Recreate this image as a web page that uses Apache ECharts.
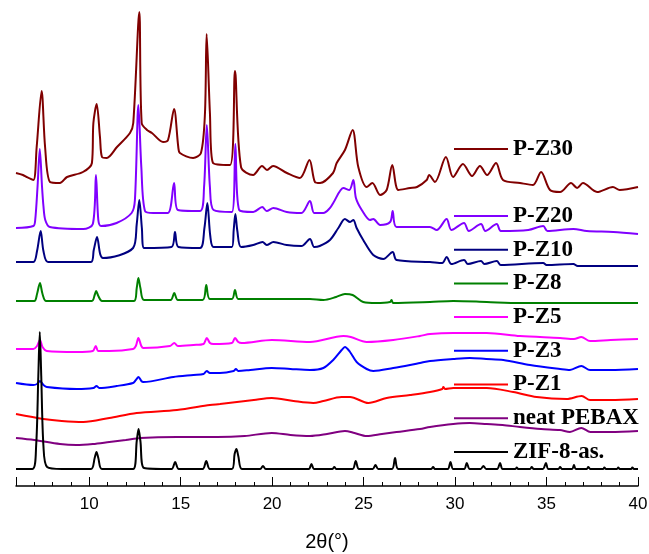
<!DOCTYPE html>
<html>
<head>
<meta charset="utf-8">
<title>XRD patterns</title>
<script src="https://cdn.jsdelivr.net/npm/echarts@6/dist/echarts.min.js"></script>
<style>
  html, body { margin: 0; padding: 0; background: #fff; }
  #main { width: 649px; height: 554px; }
</style>
</head>
<body>
<div id="main"></div>
<script>
// stacked XRD patterns, [2theta, intensity (a.u., offset included)]
var zif8 = [[6.0,17],[6.9,17],[7.1,40],[7.22,110],[7.3,154],[7.38,110],[7.5,40],[7.7,19],[8.5,17],[10.1,17],[10.3,28],[10.4,34],[10.5,28],[10.7,17],
  [12.4,17],[12.6,45],[12.7,57],[12.8,45],[13.0,18],[14.5,17],[14.7,24],[14.9,17],[16.2,17],[16.4,25],[16.6,17],[17.8,17],[17.95,32],[18.05,37],[18.15,30],[18.35,17],
  [19.35,17],[19.5,20],[19.65,17],[22.0,17],[22.15,22],[22.3,17],[23.3,17],[23.4,19],[23.5,17],[24.4,17],[24.57,25],[24.75,17],[25.5,17],[25.65,21],[25.8,17],
  [26.55,17],[26.72,28],[26.9,17],[28.7,17],[28.8,19],[28.9,17],[29.6,17],[29.75,24],[29.9,17],[30.5,17],[30.64,23],[30.8,17],[31.4,17],[31.55,20],[31.7,17],
  [32.3,17],[32.46,23],[32.6,17],[33.3,17],[33.37,18.5],[33.45,17],[34.1,17],[34.19,19],[34.3,17],[34.8,17],[34.97,23],[35.1,17],[35.65,17],[35.74,19],[35.85,17],
  [36.4,17],[36.5,21],[36.6,17],[37.2,17],[37.28,19],[37.4,17],[38.1,17],[38.16,18.5],[38.25,17],[38.85,17],[38.92,18.5],[39.0,17],[39.62,17],[39.69,18.5],[39.78,17],[40,17]];

var pebax = [[6.0,48],[7.0,46],[8.4,42],[9.3,41],[10.2,42],[11.1,44],[12.0,46],[12.8,48],[14.8,49],[17.0,49],[18.5,50],[19.98,53],[21.0,51],[22.07,50],[23.0,52],
  [23.98,55],[24.5,53],[25.17,50],[26.0,52],[26.8,54],[28.08,57],[28.63,59],[29.9,62],[30.8,63],[31.73,62],[32.6,61],[33.55,59],[34.7,57],[35.74,56],[36.28,54],
  [36.9,58],[37.4,54],[38.5,54],[40,55]];

var pz1 = [[6.0,72],[7.5,67],[8.5,65],[9.68,64],[11.1,68],[12.6,73],[14.8,76],[16.6,81],[17.15,82],[19.0,86],[19.98,88],[21.17,85],[22.25,83],[22.8,85],[23.8,89],
  [24.26,89],[25.26,83],[26.26,88],[27.54,91],[28.63,94],[29.3,97],[29.36,99],[29.45,97],[29.9,98],[31.73,98],[33.18,94],[34.46,89],[36.1,87],[36.92,90],[37.38,86],
  [38.5,86],[40,87]];

var pz3 = [[6.0,103],[6.95,101],[7.15,102],[7.31,105],[7.5,101],[7.68,99],[9.32,97],[10.23,98],[10.4,100],[10.55,98],[11.5,100],[12.4,103],[12.55,106],[12.7,109],
  [12.85,105],[12.96,104],[14.6,109],[15.7,111],[16.25,112],[16.43,115],[16.6,113],[17.15,113],[17.9,115],[18.02,117],[18.15,115],[18.8,116],[19.98,118],[21.0,117],
  [22.07,116],[22.8,118],[23.34,126],[23.8,136],[23.98,139],[24.26,134],[24.62,124],[25.17,117],[25.53,115],[26.62,118],[27.54,121],[28.08,123],[28.63,125],
  [29.9,127],[30.8,128],[31.7,127],[32.64,126],[34.1,121],[35.74,117],[36.28,116],[36.9,120],[37.38,116],[38.5,116],[40,117]];

var pz5 = [[6.0,137],[6.95,137],[7.15,140],[7.31,146],[7.45,139],[7.68,135],[9.32,134],[10.2,135],[10.36,140],[10.5,135],[11.1,135],[12.4,137],[12.55,140],
  [12.69,148],[12.85,140],[12.96,138],[14.42,140],[14.65,143],[14.85,140],[15.7,141],[16.25,142],[16.43,148],[16.6,143],[16.79,142],[17.8,143],[17.97,148],
  [18.15,144],[18.34,143],[19.98,146],[22.07,144],[23.9,150],[24.3,149],[25.17,144],[26.62,146],[28.08,150],[28.63,152],[29.9,153],[31.73,153],[33.55,150],
  [35.74,148],[36.5,147],[36.9,149],[37.38,145],[38.5,146],[40,147]];

var pz8 = [[6.0,185],[7.0,185],[7.15,192],[7.31,203],[7.45,192],[7.65,185],[10.15,185],[10.3,191],[10.38,195],[10.5,190],[10.7,185],[12.45,185],[12.6,198],
  [12.69,208],[12.8,198],[13.0,186],[14.45,186],[14.65,193],[14.85,186],[16.2,186],[16.4,201],[16.6,187],[17.8,187],[17.97,196],[18.15,187],[19.34,187],
  [22.07,187],[22.8,186],[23.5,189],[23.98,192],[24.4,191],[24.98,184],[25.7,183],[26.45,184],[26.53,186],[26.62,183],[28.63,184],[29.9,185],[31.73,184],
  [33.55,183],[36.0,183],[40,183]];

var pz10 = [[6.0,224],[6.95,224],[7.15,235],[7.35,255],[7.5,235],[7.75,224],[10.1,224],[10.25,236],[10.43,249],[10.6,232],[10.75,228],[12.4,238],[12.6,262],
  [12.74,286],[12.88,258],[13.0,238],[14.5,239],[14.69,254],[14.88,239],[16.06,238],[16.3,258],[16.46,283],[16.62,250],[16.8,239],[17.8,239],[17.9,256],
  [17.99,272],[18.1,255],[18.3,239],[18.97,241],[19.48,244],[19.7,241],[20.07,244],[20.8,241],[21.6,240],[22.07,247],[22.3,239],[22.6,240],[23.16,246],
  [23.62,258],[23.98,267],[24.26,264],[24.44,266],[24.62,258],[24.98,246],[25.53,231],[26.08,227],[26.59,234],[26.8,226],[28.63,224],[29.3,223],[29.54,229],
  [29.8,222],[30.49,226],[30.7,222],[31.42,225],[31.6,222],[32.28,225],[32.5,221],[34.82,223],[35.0,221],[36.47,222],[36.7,220],[40,220]];

var pz20 = [[6.0,258],[6.95,260],[7.05,266],[7.18,300],[7.3,337],[7.42,300],[7.5,280],[7.6,266],[7.85,259],[9.68,257],[10.2,262],[10.37,311],[10.5,266],
  [10.65,260],[11.5,263],[12.32,273],[12.5,286],[12.69,381],[12.85,319],[13.05,275],[13.5,273],[14.3,273],[14.64,303],[14.85,276],[16.06,275],[16.28,299],
  [16.43,361],[16.6,299],[16.8,276],[17.8,274],[17.99,342],[18.2,276],[18.97,274],[19.46,279],[19.7,275],[20.07,278],[20.8,274],[21.6,273],[22.07,285],
  [22.3,273],[22.8,273],[23.16,278],[23.34,283],[23.9,298],[24.22,296],[24.44,306],[24.58,288],[24.9,276],[25.35,266],[25.53,267],[25.9,261],[26.45,264],
  [26.59,275],[26.8,259],[28.63,259],[29.0,256],[29.54,267],[29.8,256],[30.49,263],[30.75,255],[31.42,262],[31.65,255],[32.28,262],[32.5,255],[34.0,256],
  [34.82,260],[35.05,255],[36.47,257],[37.2,255],[38.65,254],[40,252]];

var pz30 = [[6.0,313],[6.38,311],[6.58,309],[6.95,306],[7.13,339],[7.4,395],[7.59,339],[7.86,304],[8.4,303],[8.79,309],[9.66,314],[10.15,323],[10.23,363],
  [10.41,382],[10.59,349],[10.7,329],[10.96,328],[11.52,339],[12.23,353],[12.41,363],[12.74,474],[12.87,363],[13.16,356],[13.43,353],[14.04,344],[14.31,346],
  [14.64,377],[14.87,339],[14.96,333],[15.68,328],[16.11,333],[16.33,373],[16.42,452],[16.6,373],[16.77,323],[17.7,321],[17.97,415],[18.3,319],[18.96,311],
  [19.45,320],[19.72,316],[20.05,320],[20.81,313],[21.52,308],[22.04,326],[22.34,304],[22.62,303],[23.33,313],[23.53,323],[23.98,336],[24.4,356],[24.71,319],
  [25.17,299],[25.48,303],[25.9,291],[26.26,296],[26.57,321],[26.9,296],[27.54,298],[27.92,299],[28.45,306],[28.58,311],[28.9,304],[29.5,329],[29.89,309],
  [30.43,322],[30.93,310],[31.36,320],[31.75,311],[32.24,323],[32.62,306],[33.55,303],[34.26,301],[34.7,314],[35.19,296],[35.74,294],[36.34,303],[36.67,298],
  [36.99,303],[37.76,294],[38.63,299],[39.0,296],[40,299]];

var names = ['P-Z30', 'P-Z20', 'P-Z10', 'P-Z8', 'P-Z5', 'P-Z3', 'P-Z1', 'neat PEBAX', 'ZIF-8-as.'];
var patterns = [pz30, pz20, pz10, pz8, pz5, pz3, pz1, pebax, zif8];
var colors = ['#800000', '#8000ff', '#000080', '#008000', '#ff00ff', '#0000ff', '#ff0000', '#800080', '#000000'];

var legendText = {
  color: '#000',
  fontFamily: 'Liberation Serif',
  fontWeight: 'bold',
  fontSize: 23,
  lineHeight: 24
};

var chart = echarts.init(document.getElementById('main'));
chart.setOption({
  animation: false,
  backgroundColor: '#fff',
  grid: { left: 16, right: 11, top: 10, bottom: 68, containLabel: false, outerBoundsMode: 'none' },
  legend: [{
    data: names.slice(0, 1),
    left: 454, top: 137, padding: 0,
    icon: 'rect', itemWidth: 54, itemHeight: 2,
    selectedMode: false,
    textStyle: legendText
  }, {
    data: names.slice(1),
    orient: 'vertical',
    left: 454, top: 204, padding: 0, itemGap: 9.7,
    icon: 'rect', itemWidth: 54, itemHeight: 2,
    selectedMode: false,
    textStyle: legendText
  }],
  xAxis: {
    type: 'value',
    min: 6, max: 40,
    splitNumber: 7,
    name: '2θ(°)',
    nameLocation: 'middle',
    nameGap: 46,
    nameTextStyle: { color: '#000', fontFamily: 'Liberation Sans', fontSize: 20 },
    axisLine: { lineStyle: { color: '#000', width: 1.5 } },
    axisTick: { inside: true, length: 9, lineStyle: { color: '#000', width: 1 } },
    minorTick: { show: true, splitNumber: 5, length: 4, lineStyle: { color: '#000', width: 1 } },
    axisLabel: { showMinLabel: false, margin: 10, color: '#000', fontFamily: 'Liberation Sans', fontSize: 17 },
    splitLine: { show: false }
  },
  yAxis: {
    type: 'value',
    min: 0, max: 476,
    show: false
  },
  series: names.map(function (n, i) {
    return {
      name: n,
      type: 'line',
      data: patterns[i],
      showSymbol: false,
      symbol: 'none',
      smooth: 0.3,
      color: colors[i],
      lineStyle: { width: 2, color: colors[i] }
    };
  })
});
</script>
</body>
</html>
